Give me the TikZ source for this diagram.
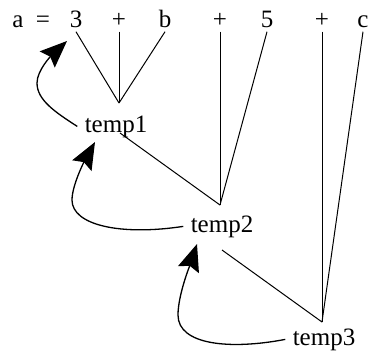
\documentclass[tikz,border=0pt]{standalone}
\usepackage{fontspec}
\setmainfont{Liberation Serif}
\usetikzlibrary{arrows.meta}

\tikzset{
	term/.style = {anchor=base, inner xsep=7bp, inner ysep=4bp, font=\fontsize{25bp}{30bp}\selectfont},
	back/.style = {-{Stealth[length=27bp, width=22bp, inset=4bp]}, line width=1.3bp},
}

\begin{document}
\begin{tikzpicture}[x=1bp, y=-1bp, line width=1bp]
	\useasboundingbox (0,0) rectangle (370,351);
	% top row
	\node [term] (a)     at (18,27)  {a};
	\node [term] (eq)    at (43,27)  {=};
	\node [term] (three) at (76,27)  {3};
	\node [term] (plA)   at (119,27) {+};
	\node [term] (b)     at (165,27) {b};
	\node [term] (plB)   at (220,27) {+};
	\node [term] (five)  at (267,27) {5};
	\node [term] (plC)   at (322,27) {+};
	\node [term] (c)     at (363,27) {c};
	% temporaries
	\node [term] (temp1) at (116,132) {temp1};
	\node [term] (temp2) at (222,232) {temp2};
	\node [term] (temp3) at (324,345) {temp3};
	\coordinate (j1) at (119,103);
	\coordinate (j2) at (220,205);
	\coordinate (j3) at (322,322);
	\coordinate (t1out) at (120,133);
	\coordinate (t2out) at (222,250);
	%\coordinate (t3out) at (322,330);
	\draw (three.south) -- (j1);
	\draw (plA.south) -- (j1);
	\draw (b.south) -- (j1);
	\draw (t1out) -- (j2);
	\draw (plB.south) -- (j2);
	\draw (five.south) -- (j2);
	\draw (t2out) -- (j3);
	\draw (plC.south) -- (j3);
	\draw (c.south) -- (j3);
	% results go back
	\coordinate (tip1) at (67,41);
	\coordinate (tip2) at (95,142);
	\coordinate (tip3) at (197,244);
	\draw [back] (temp1.west) .. controls (55,112) and (37,100) .. (37,83)
		.. controls (37,70) and (52,55) .. (tip1);
	\draw [back] (temp2.west) .. controls (120,236) and (72,225) .. (72,200)
		.. controls (72,185) and (85,160) .. (tip2);
	\draw [back] (temp3.west) .. controls (230,350) and (178,345) .. (178,315)
		.. controls (178,295) and (190,265) .. (tip3);
\end{tikzpicture}
\end{document}
